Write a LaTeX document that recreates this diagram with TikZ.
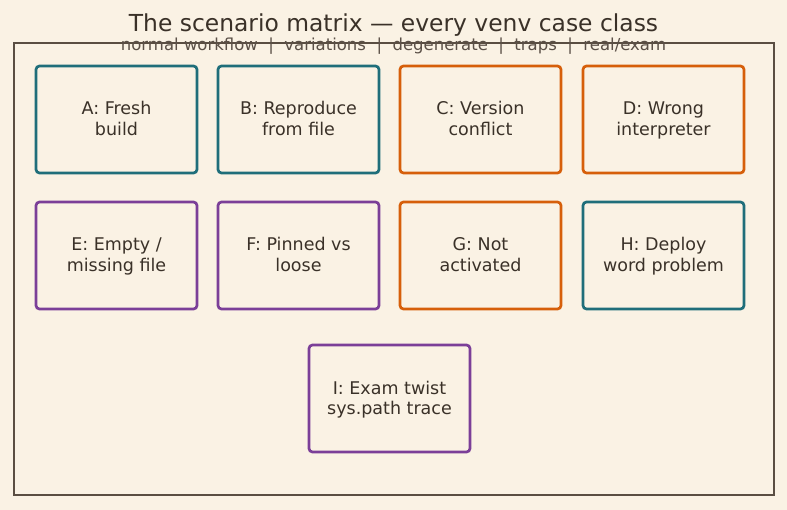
\documentclass[tikz,border=0pt]{standalone}
\usepackage{fontspec}
\setmainfont{DejaVu Sans}
\definecolor{bg}{HTML}{FAF2E4}
\definecolor{frame}{HTML}{5A4E42}
\definecolor{ink}{HTML}{3A3128}
\definecolor{subink}{HTML}{5B5047}
\definecolor{teal}{HTML}{1F6E7A}
\definecolor{orng}{HTML}{D65F0A}
\definecolor{purp}{HTML}{7B3F98}
\newcommand{\cardstrut}{\rule[-4.5pt]{0pt}{20.5pt}}
\newcommand{\cardtxt}[2]{\cardstrut #1\\\cardstrut #2}
\begin{document}
\begin{tikzpicture}[x=1pt,y=-1pt,
  card/.style={draw, line width=2.7pt, rounded corners=3.5pt, fill=bg,
    minimum width=161pt, minimum height=107pt, inner sep=0pt,
    text=ink, align=center, font=\fontsize{17.5}{20.5}\selectfont},
  tcard/.style={card, draw=teal},
  ocard/.style={card, draw=orng},
  pcard/.style={card, draw=purp}]
\fill[bg] (0,0) rectangle (787,510);
\useasboundingbox (0,0) rectangle (787,510);
\draw[frame, line width=1.3pt] (14,43) rectangle (774,495);
\node[text=ink, font=\fontsize{23.4}{28}\selectfont] (title) at (393.5,25) {The scenario matrix — every venv case class};
\node[text=subink, font=\fontsize{16.5}{19}\selectfont] (sub) at (393.5,46) {normal workflow \ | \ variations \ | \ degenerate \ | \ traps \ | \ real/exam};
\node[tcard] (A) at (116.5,119.5) {\cardtxt{A: Fresh}{build}};
\node[tcard] (B) at (298.5,119.5) {\cardtxt{B: Reproduce}{from file}};
\node[ocard] (C) at (480.5,119.5) {\cardtxt{C: Version}{conflict}};
\node[ocard] (D) at (663.5,119.5) {\cardtxt{D: Wrong}{interpreter}};
\node[pcard] (E) at (116.5,255.5) {\cardtxt{E: Empty /}{missing file}};
\node[pcard] (F) at (298.5,255.5) {\cardtxt{F: Pinned vs}{loose}};
\node[ocard] (G) at (480.5,255.5) {\cardtxt{G: Not}{activated}};
\node[tcard] (H) at (663.5,255.5) {\cardtxt{H: Deploy}{word problem}};
\node[pcard] (I) at (389.5,398.5) {\cardtxt{I: Exam twist}{sys.path trace}};
\end{tikzpicture}
\end{document}
